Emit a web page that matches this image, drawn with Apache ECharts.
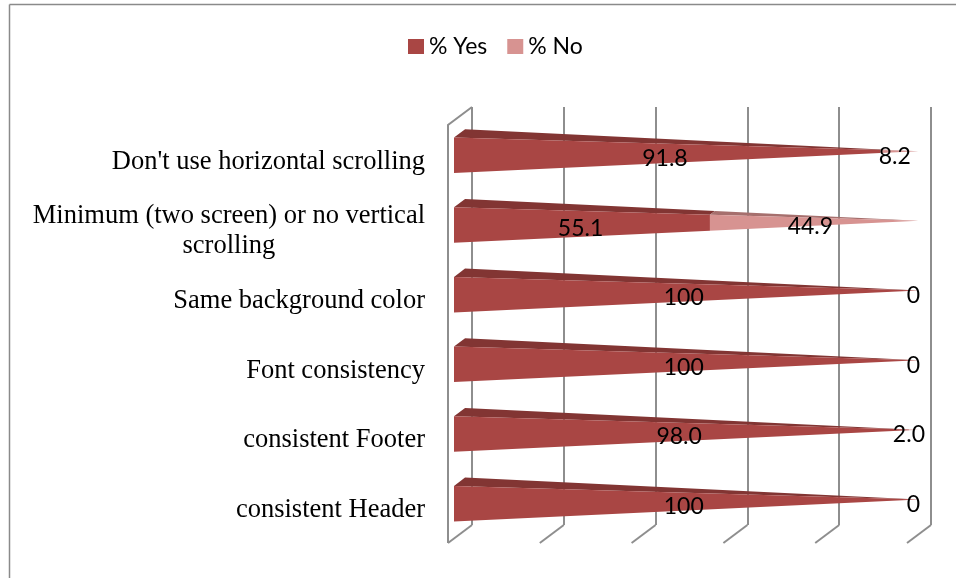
<!DOCTYPE html>
<html>
<head>
<meta charset="utf-8">
<script src="https://cdn.jsdelivr.net/npm/echarts@6/dist/echarts.min.js"></script>
<style>
html,body{margin:0;padding:0;background:#fff;}
#chart{width:956px;height:578px;}
</style>
</head>
<body>
<div id="chart"></div>
<script>
// ---- data ----
const categories = [
  "Don't use horizontal scrolling",
  "Minimum (two screen) or no vertical scrolling",
  "Same background color",
  "Font consistency",
  "consistent Footer",
  "consistent Header"
];
const yesValues = [91.8, 55.1, 100, 100, 98.0, 100];
const noValues  = [8.2, 44.9, 0, 0, 2.0, 0];
const yesLabels = ["91.8", "55.1", "100", "100", "98.0", "100"];
const noLabels  = ["8.2", "44.9", "0", "0", "2.0", "0"];
const xTicks = [0, 20, 40, 60, 80, 100];
const seriesNames = ["% Yes", "% No"];

// ---- styling constants ----
const DX = 24, DY = 18;          // depth projection (back -> front)
const FC = 0.52, HD = 0.23;      // bar depth centre / half-depth (fraction of depth)
const HH = 0.255;                // bar half-height as fraction of band
const YES_FRONT = '#A94644', YES_TOP = '#823533';
const NO_FRONT = '#D79391', NO_TOP = '#A66F6D';
const GRID_COLOR = '#8E8E8E';
const LABEL_FONT = '23px Lato';

function proj(api, v, cat, s, f) {
  const p = api.coord([v, cat]);
  const band = api.size([0, 1])[1];
  const k = 1 - v / 100;
  const hh = band * HH * k;
  const depth = FC + HD * k * f;
  return [p[0] - DX * depth, p[1] + s * hh + DY * depth];
}

function makeBarRender(front, top, labels) {
  return function (params, api) {
    const a = api.value(0), b = api.value(1), cat = api.value(2);
    const ftA = proj(api, a, cat, -1, 1), fbA = proj(api, a, cat, 1, 1);
    const ftB = proj(api, b, cat, -1, 1), fbB = proj(api, b, cat, 1, 1);
    const btA = proj(api, a, cat, -1, -1), btB = proj(api, b, cat, -1, -1);
    const mid = (a + b) / 2;
    const lp = proj(api, mid, cat, 0, 1);
    const shift = -(mid / 100) * 5;
    const children = [];
    if (b > a) {
      children.push({
        type: 'polygon',
        shape: { points: [ftA, btA, btB, ftB] },
        style: { fill: top }
      });
      children.push({
        type: 'polygon',
        shape: { points: [ftA, ftB, fbB, fbA] },
        style: { fill: front }
      });
    }
    children.push({
      type: 'text',
      z2: 100,
      x: lp[0] + shift, y: lp[1] + 5,
      style: {
        text: labels[params.dataIndex],
        fill: '#000', font: LABEL_FONT,
        align: 'center', verticalAlign: 'middle'
      }
    });
    return { type: 'group', children: children };
  };
}

function frameRender(params, api) {
  const t = api.value(0);
  const band = api.size([0, 1])[1];
  const last = categories.length - 1;
  const pb = api.coord([t, last]);
  const bottomY = pb[1] + band / 2;
  const children = [{
    type: 'line',
    shape: { x1: pb[0], y1: bottomY, x2: pb[0] - DX, y2: bottomY + DY },
    style: { stroke: GRID_COLOR, lineWidth: 2 }
  }];
  if (params.dataIndex === 0) {
    const pt = api.coord([t, 0]);
    const topY = pt[1] - band / 2;
    children.push({
      type: 'polyline',
      shape: { points: [[pt[0], topY], [pt[0] - DX, topY + DY], [pt[0] - DX, bottomY + DY]] },
      style: { stroke: GRID_COLOR, lineWidth: 2, fill: null }
    });
  }
  return { type: 'group', children: children };
}

const chart = echarts.init(document.getElementById('chart'), null, { renderer: 'canvas' });

const labelFormatter = function (v) {
  if (v.length > 30) {
    const idx = v.lastIndexOf(' ');
    return '{c|' + v.slice(0, idx) + '}\n{c|' + v.slice(idx + 1) + '}';
  }
  return '{c|' + v + '}';
};

chart.setOption({
  animation: false,
  backgroundColor: '#fff',
  graphic: [
    { type: 'line', shape: { x1: 9.5, y1: 4.5, x2: 956, y2: 4.5 }, style: { stroke: '#8a8a8a', lineWidth: 1.5 } },
    { type: 'line', shape: { x1: 9.5, y1: 4.5, x2: 9.5, y2: 578 }, style: { stroke: '#8a8a8a', lineWidth: 1.5 } }
  ],
  legend: {
    data: seriesNames,
    left: 403, top: 30,
    icon: 'rect', itemWidth: 16, itemHeight: 15, itemGap: 20,
    textStyle: { fontFamily: 'Lato', fontSize: 23, color: '#000' }
  },
  grid: [
    { left: 472, right: 25, top: 107, bottom: 53 },
    { left: 448, right: 49, top: 127, bottom: 33 }
  ],
  xAxis: [
    {
      gridIndex: 0, type: 'value', min: 0, max: 100, interval: 20,
      axisLine: { show: false }, axisTick: { show: false }, axisLabel: { show: false },
      splitLine: { show: true, lineStyle: { color: GRID_COLOR, width: 2 } }
    },
    {
      gridIndex: 1, type: 'value', min: 0, max: 100, show: false
    }
  ],
  yAxis: [
    {
      gridIndex: 0, type: 'category', data: categories, inverse: true,
      axisLine: { show: false }, axisTick: { show: false }, axisLabel: { show: false },
      splitLine: { show: false }
    },
    {
      gridIndex: 1, type: 'category', data: categories, inverse: true,
      axisLine: { show: false }, axisTick: { show: false }, splitLine: { show: false },
      axisLabel: {
        show: true, margin: 23, align: 'right',
        formatter: labelFormatter,
        rich: { c: { fontFamily: 'Liberation Serif', fontSize: 26.5, color: '#000', align: 'center', lineHeight: 30 } }
      }
    }
  ],
  series: [
    {
      type: 'custom', name: 'frame', silent: true, legendHoverLink: false,
      xAxisIndex: 0, yAxisIndex: 0, z: 1,
      data: xTicks.map(t => [t]),
      renderItem: frameRender,
      encode: { x: 0 }
    },
    {
      type: 'custom', name: seriesNames[0], xAxisIndex: 0, yAxisIndex: 0, z: 2,
      itemStyle: { color: YES_FRONT },
      data: categories.map((c, i) => [0, yesValues[i], i]),
      encode: { x: [0, 1], y: 2 },
      renderItem: makeBarRender(YES_FRONT, YES_TOP, yesLabels)
    },
    {
      type: 'custom', name: seriesNames[1], xAxisIndex: 0, yAxisIndex: 0, z: 2,
      itemStyle: { color: NO_FRONT },
      data: categories.map((c, i) => [yesValues[i], yesValues[i] + noValues[i], i]),
      encode: { x: [0, 1], y: 2 },
      renderItem: makeBarRender(NO_FRONT, NO_TOP, noLabels)
    }
  ]
});
</script>
</body>
</html>
